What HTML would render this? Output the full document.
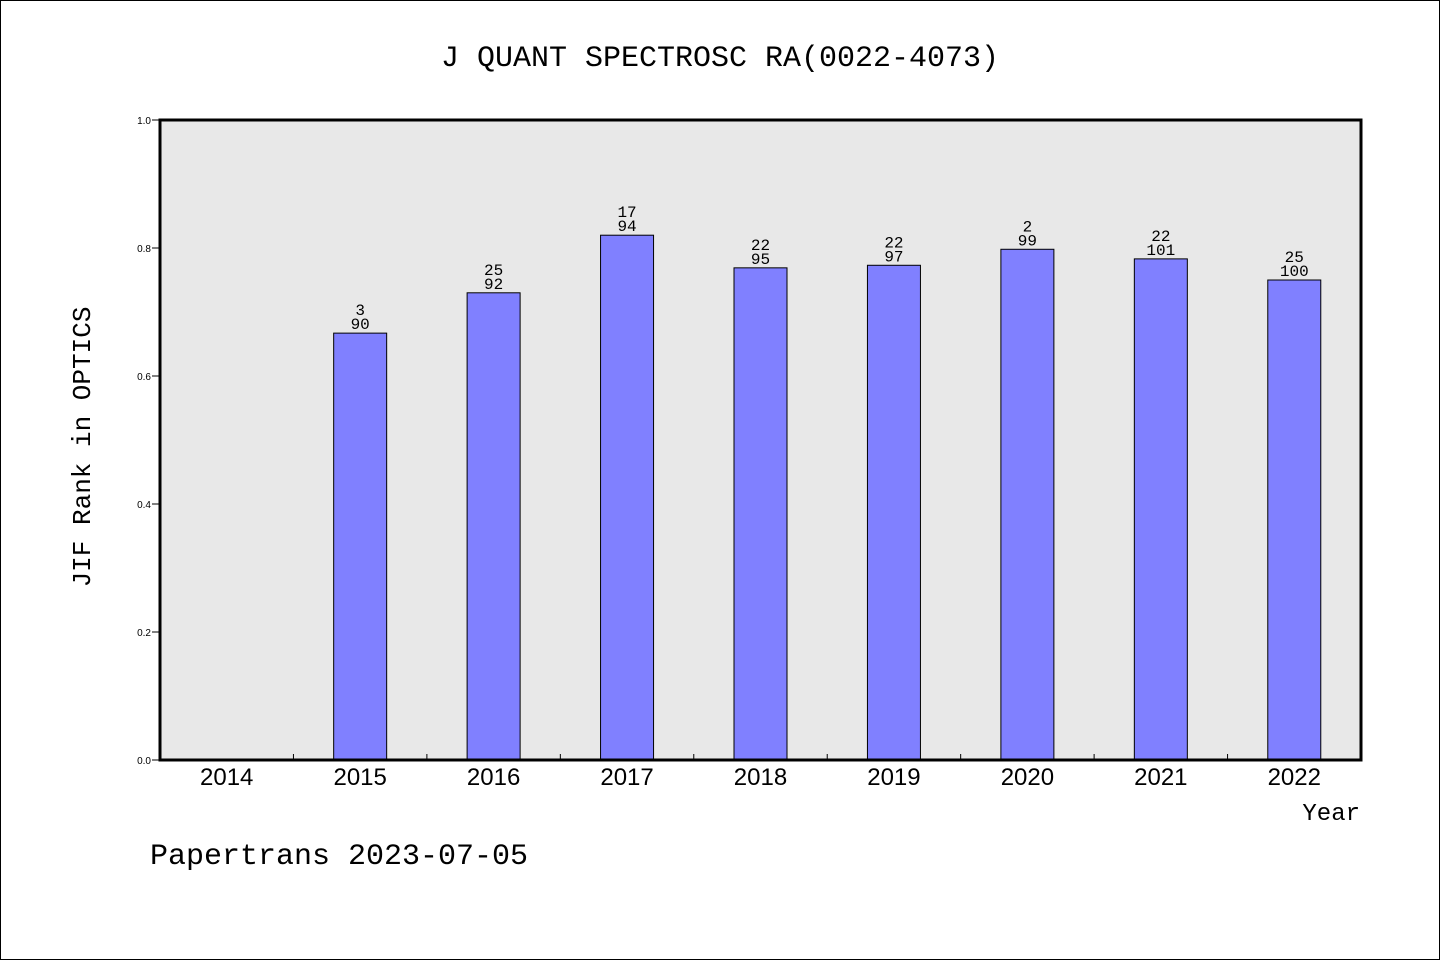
<!DOCTYPE html>
<html><head><meta charset="utf-8"><style>
body{margin:0;background:#fff}
svg{display:block}
text{font-family:"WenQuanYi Zen Hei","Liberation Mono",monospace;fill:#000}
.s{font-family:"Liberation Sans",sans-serif}
</style></head><body>
<svg id="c" width="1440" height="960" viewBox="0 0 1440 960">
<rect x="0.5" y="0.5" width="1439" height="959" fill="#fff" stroke="#000"/>
<text x="720" y="66" font-size="30" text-anchor="middle">J QUANT SPECTROSC RA(0022-4073)</text>
<rect x="160" y="120" width="1201" height="640" fill="#e8e8e8"/>
<g id="marks"></g>
<rect x="160" y="120" width="1201" height="640" fill="none" stroke="#000" stroke-width="3"/>
<text x="90" y="447" font-size="26" text-anchor="middle" transform="rotate(-90 90 447)">JIF Rank in OPTICS</text>
<text x="1360" y="820" font-size="24" text-anchor="end">Year</text>
<text x="150" y="864" font-size="30">Papertrans 2023-07-05</text>
</svg>
<script>
const years=["2014","2015","2016","2017","2018","2019","2020","2021","2022"];
const values=[null,0.667,0.730,0.820,0.769,0.773,0.798,0.783,0.750];
const ranks=["","3","25","17","22","22","2","22","25"];
const totals=["","90","92","94","95","97","99","101","100"];
const yTicks=[0,0.2,0.4,0.6,0.8,1.0];
const X0=160,X1=1361,Y0=760,Y1=120;
const bw=(X1-X0)/years.length;
const xc=i=>X0+bw*(i+0.5);
const ys=v=>Y0-(v)*(Y0-Y1);
const g=document.getElementById('marks');
const NS="http://www.w3.org/2000/svg";
function mk(t,a){const e=document.createElementNS(NS,t);for(const k in a)e.setAttribute(k,a[k]);g.appendChild(e);return e;}
yTicks.forEach(v=>{
 const l=mk('line',{x1:152,x2:160,y1:ys(v),y2:ys(v),stroke:'#000'});
 
 
 const t=mk('text',{x:151,y:ys(v)+4,'font-size':10,'text-anchor':'end',class:'s'});
 t.textContent=v.toFixed(1);
 
 
});
years.forEach((y,i)=>{
 if(i>0){const l=mk('line',{x1:X0+bw*i,x2:X0+bw*i,y1:754,y2:760,stroke:'#000'});
 
 }
 const t=mk('text',{x:xc(i),y:785,'font-size':24,'text-anchor':'middle',class:'s'});
 t.textContent=y;
 
 
 if(values[i]!=null){
  const top=ys(values[i]);
  const r=mk('rect',{x:xc(i)-26.5,y:top,width:53,height:Y0-top,fill:'#8080ff',stroke:'#000'});
  
  
  const a=mk('text',{x:xc(i),y:top-18,'font-size':16,'text-anchor':'middle'});
  a.textContent=ranks[i];
  
  
  const b=mk('text',{x:xc(i),y:top-4,'font-size':16,'text-anchor':'middle'});
  b.textContent=totals[i];
  
  
 }
});
</script>
</body></html>
